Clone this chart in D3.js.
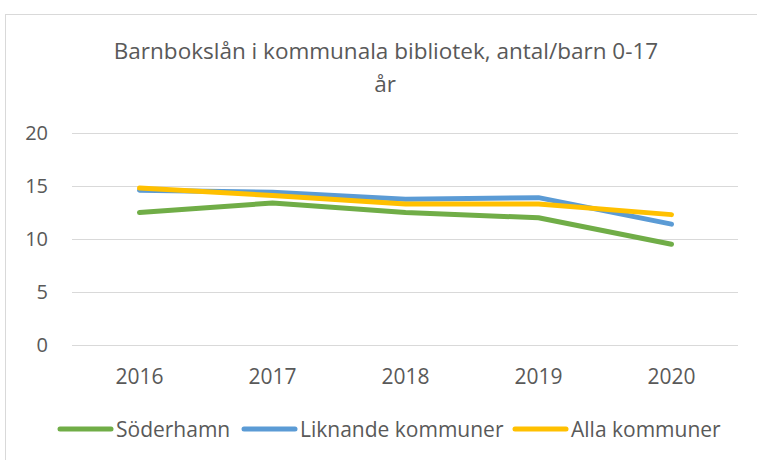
<!DOCTYPE html>
<html>
<head>
<meta charset="utf-8">
<title>Barnbokslån</title>
<script src="https://d3js.org/d3.v7.min.js"></script>
<style>
  body { margin: 0; background: #fff; }
  text { font-family: "Open Sans", sans-serif; fill: #595959; }
</style>
</head>
<body>
<script>
    // data
    let years = ["2016", "2017", "2018", "2019", "2020"];
    let soderhamn = [12.5, 13.4, 12.5, 12.0, 9.5];
    let liknande = [14.6, 14.4, 13.75, 13.9, 11.4];
    let alla = [14.8, 14.1, 13.3, 13.3, 12.3];
    let yTicks = [0, 5, 10, 15, 20];
    let seriesNames = ["Söderhamn", "Liknande kommuner", "Alla kommuner"];
    let seriesColors = ["#70AD47", "#5B9BD5", "#FFC000"];

    let width = 757, height = 460;
    let svg = d3.select("body").append("svg").attr("width", width).attr("height", height);

    // chart border
    svg.append("rect").attr("x", 5.5).attr("y", 14.5).attr("width", 760).attr("height", 460)
        .attr("fill", "none").attr("stroke", "#d9d9d9").attr("stroke-width", 1);

    svg.append("text").attr("x", 386).attr("y", 59).attr("text-anchor", "middle")
        .style("font-size", "22.5px").text("Barnbokslån i kommunala bibliotek, antal/barn 0-17");
    svg.append("text").attr("x", 385).attr("y", 92).attr("text-anchor", "middle")
        .style("font-size", "22.5px").text("år");

    let x = d3.scaleBand().domain(years).range([73, 738]);
    let y = d3.scaleLinear().domain([0, 20]).range([345, 133]);

    // gridlines
    svg.selectAll(".grid").data(yTicks).enter().append("line")
        .attr("x1", 72).attr("x2", 738)
        .attr("y1", d => y(d) + 0.5).attr("y2", d => y(d) + 0.5)
        .attr("stroke", "#d9d9d9").attr("stroke-width", 1);

    svg.selectAll(".ylab").data(yTicks).enter().append("text")
        .attr("x", 48).attr("y", d => y(d) + 7).attr("text-anchor", "end")
        .style("font-size", "20px").text(d => d);

    svg.selectAll(".xlab").data(years).enter().append("text")
        .attr("x", d => x(d) + x.bandwidth() / 2).attr("y", 384).attr("text-anchor", "middle")
        .style("font-size", "21px").text(d => d);

    let series = [soderhamn, liknande, alla];
    let line = d3.line().x((d, i) => x(years[i]) + x.bandwidth() / 2).y(d => y(d));

    // draw in order green, blue, yellow (yellow on top)
    series.forEach(function(s, k) {
        svg.append("path").datum(s).attr("d", line)
            .attr("fill", "none").attr("stroke", seriesColors[k]).attr("stroke-width", 5)
            .attr("stroke-linecap", "round").attr("stroke-linejoin", "round");
    });

    // legend
    let legendX = [60, 244, 515];
    seriesNames.forEach(function(n, k) {
        svg.append("line").attr("x1", legendX[k]).attr("x2", legendX[k] + 51)
            .attr("y1", 429).attr("y2", 429)
            .attr("stroke", seriesColors[k]).attr("stroke-width", 5).attr("stroke-linecap", "round");
        svg.append("text").attr("x", legendX[k] + 56).attr("y", 437)
            .style("font-size", "21px").text(n);
    });
</script>
</body>
</html>
